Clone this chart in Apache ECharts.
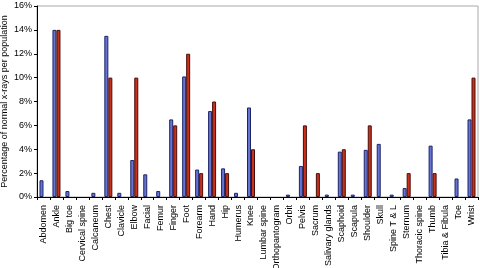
<!DOCTYPE html>
<html>
<head>
<meta charset="utf-8">
<script src="https://cdn.jsdelivr.net/npm/echarts@6/dist/echarts.min.js"></script>
<style>
  html, body { margin: 0; padding: 0; background: #fff; }
  #grafico { width: 480px; height: 268px; }
</style>
</head>
<body>
<div id="grafico"></div>
<script>
var categorias = ['Abdomen', 'Ankle', 'Big toe', 'Cervical spine', 'Calcaneum', 'Chest', 'Clavicle', 'Elbow', 'Facial', 'Femur',
  'Finger', 'Foot', 'Forearm', 'Hand', 'Hip', 'Humerus', 'Knee', 'Lumbar spine', 'Orthopantogram', 'Orbit',
  'Pelvis', 'Sacrum', 'Salivary glands', 'Scaphoid', 'Scapula', 'Shoulder', 'Skull', 'Spine T & L', 'Sternum',
  'Thoracic spine', 'Thumb', 'Tibia & Fibula', 'Toe', 'Wrist'];

var serieAzul = [1.4, 14, 0.5, 0, 0.35, 13.5, 0.35, 3.1, 1.9, 0.5,
  6.5, 10.1, 2.3, 7.2, 2.4, 0.35, 7.5, 0, 0, 0.2,
  2.6, 0, 0.2, 3.8, 0.2, 3.95, 4.45, 0.2, 0.75,
  0, 4.3, 0, 1.55, 6.5];

var serieVermelha = [0, 14, 0, 0, 0, 10, 0, 10, 0, 0,
  6, 12, 2, 8, 2, 0, 4, 0, 0, 0,
  6, 2, 0, 4, 0, 6, 0, 0, 2,
  0, 2, 0, 0, 10];

var marcasY = [0, 2, 4, 6, 8, 10, 12, 14, 16];

// zero bars are not drawn in the original
function semZeros(lista) {
  return lista.map(function (v) { return v === 0 ? '-' : v; });
}

var chartDom = document.getElementById('grafico');
var myChart = echarts.init(chartDom);

var option = {
  animation: false,
  textStyle: { fontFamily: 'Liberation Sans, Arial, sans-serif' },
  grid: {
    left: 37,
    right: 2,
    top: 6,
    bottom: 71,
    outerBoundsMode: 'none',
    containLabel: false,
    show: true,
    borderColor: '#aaaaaa',
    borderWidth: 1
  },
  xAxis: {
    type: 'category',
    data: categorias,
    axisLine: { lineStyle: { color: '#000', width: 1 } },
    axisTick: { show: true, interval: 0, length: 3, lineStyle: { color: '#000' } },
    axisLabel: { interval: 0, rotate: 90, fontSize: 9, color: '#000', margin: 8 }
  },
  yAxis: {
    type: 'value',
    min: 0,
    max: 16,
    interval: 2,
    name: 'Percentage of normal x-rays per population',
    nameLocation: 'middle',
    nameGap: 28,
    nameMoveOverlap: false,
    nameTextStyle: { fontSize: 9, color: '#000' },
    axisLine: { show: true, lineStyle: { color: '#000', width: 1 } },
    axisTick: { show: true, length: 3, inside: false, lineStyle: { color: '#000' } },
    splitLine: { show: false },
    axisLabel: {
      fontSize: 9,
      color: '#000',
      margin: 5,
      formatter: function (v) { return marcasY.indexOf(v) >= 0 ? v + '%' : ''; }
    }
  },
  series: [
    {
      type: 'bar',
      data: semZeros(serieAzul),
      barWidth: 4,
      barGap: '0%',
      itemStyle: { color: '#6675d4', borderColor: '#1c2466', borderWidth: 1 }
    },
    {
      type: 'bar',
      data: semZeros(serieVermelha),
      barWidth: 4,
      itemStyle: { color: '#c8311c', borderColor: '#4a0c08', borderWidth: 1 }
    }
  ]
};

option && myChart.setOption(option);
</script>
</body>
</html>
